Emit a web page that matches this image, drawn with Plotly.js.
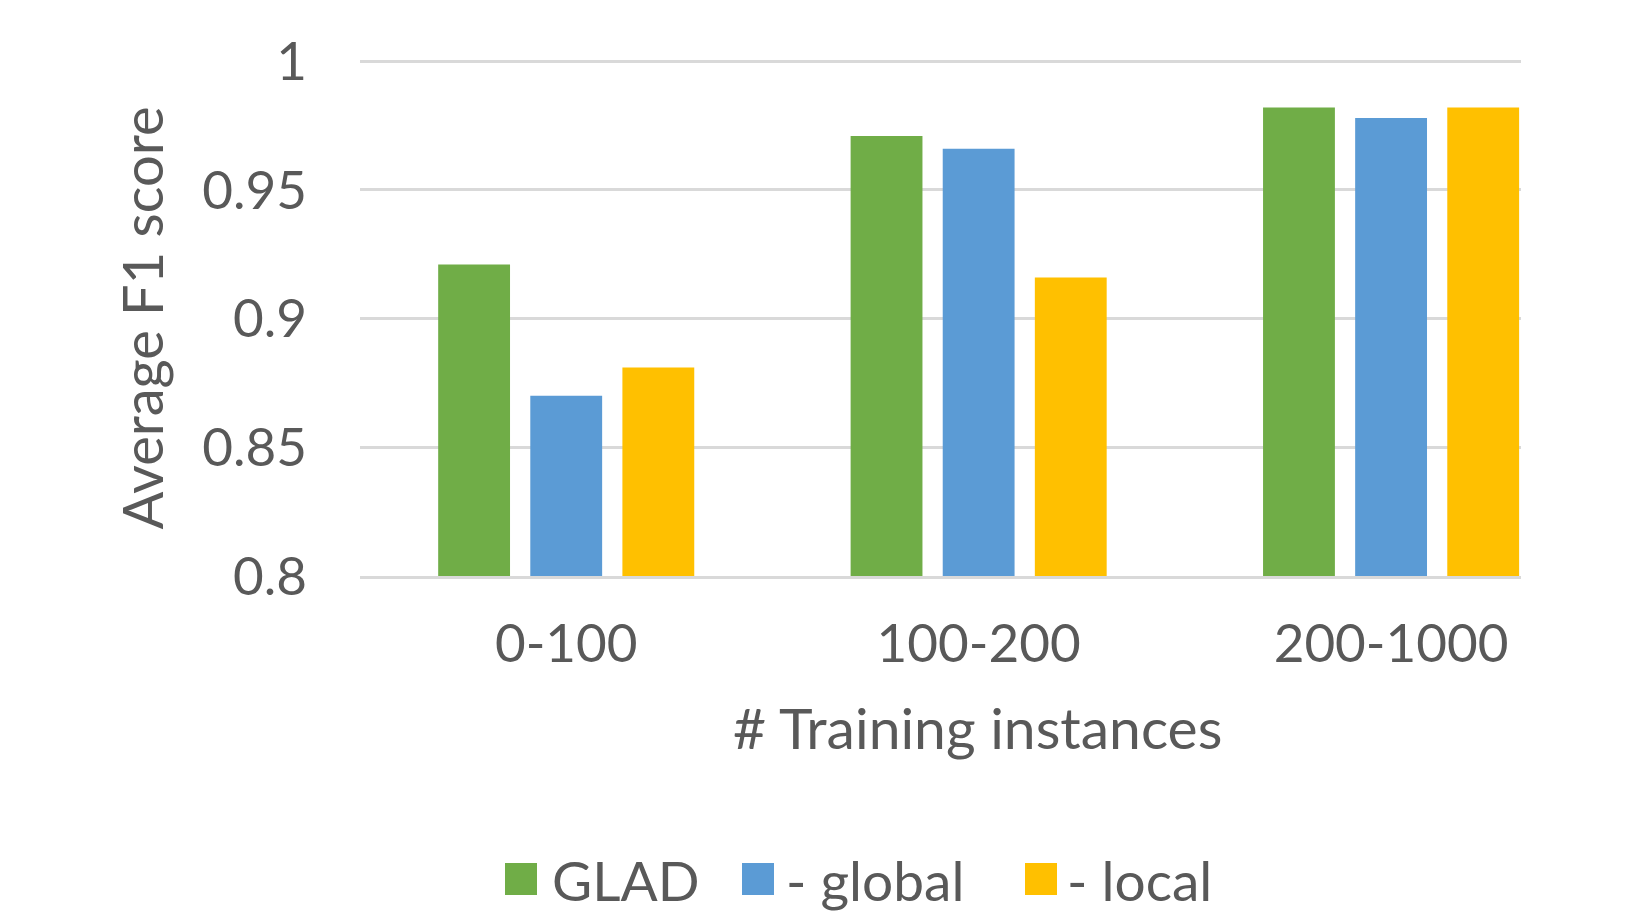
<!DOCTYPE html>
<html><head><meta charset="utf-8">
<script src="https://cdn.plot.ly/plotly-3.0.1.min.js"></script>
<style>html,body{margin:0;padding:0;background:#fff;} #chart{width:1647px;height:912px;}</style>
</head><body><div id="chart"></div>
<script>
// ---- data ----
const categories = ['0-100', '100-200', '200-1000'];
const seriesNames = ['GLAD', '- global', '- local'];
const gladValues = [0.921, 0.971, 0.982];
const globalValues = [0.870, 0.966, 0.978];
const localValues = [0.881, 0.916, 0.982];
const yTickValues = [0.8, 0.85, 0.9, 0.95, 1];
const yTickLabels = ['0.8', '0.85', '0.9', '0.95', '1'];
const xTitle = '# Training instances';
const yTitle = 'Average F1 score';

// ---- styling / layout ----
const colors = ['#70AD47', '#5B9BD5', '#FFC000'];
const textColor = '#595959';
const fontFamily = 'Lato, "Open Sans", sans-serif';
const fs = 53;
const W = 1647, H = 912;
const M = {l: 360, r: 126, t: 60, b: 336};
const PW = W - M.l - M.r, PH = H - M.t - M.b;
const px = x => (x - M.l) / PW;
const py = y => (H - M.b - y) / PH;

const seriesValues = [gladValues, globalValues, localValues];
const traces = seriesValues.map((vals, i) => ({
  type: 'bar', x: categories, y: vals, name: seriesNames[i],
  marker: {color: colors[i]}, showlegend: false, hoverinfo: 'x+y+name'
}));

// manual legend (large swatches like the original)
const legendSwatchLeft = [505, 742, 1025];
const legendTextLeft = [550, 784, 1065];
const swTop = 863, swBottom = 895, legendTextMid = 880;
const legendFs = 55;
const shapes = seriesNames.map((n, i) => ({
  type: 'rect', xref: 'paper', yref: 'paper',
  x0: px(legendSwatchLeft[i]), x1: px(legendSwatchLeft[i] + 32),
  y0: py(swBottom), y1: py(swTop),
  fillcolor: colors[i], line: {width: 0}
}));
const annotations = seriesNames.map((n, i) => ({
  xref: 'paper', yref: 'paper', x: px(legendTextLeft[i]), y: py(legendTextMid),
  xanchor: 'left', yanchor: 'middle', text: n, showarrow: false,
  font: {family: fontFamily, size: legendFs, color: textColor}
}));
annotations.push({
  xref: 'paper', yref: 'paper', x: px(977), y: py(727),
  xanchor: 'center', yanchor: 'middle', text: xTitle, showarrow: false,
  font: {family: fontFamily, size: 57, color: textColor}
});

const layout = {
  width: W, height: H, margin: M,
  paper_bgcolor: '#ffffff', plot_bgcolor: '#ffffff',
  font: {family: fontFamily, size: fs, color: textColor},
  barmode: 'group', bargap: 0.33, bargroupgap: 0.22,
  xaxis: {
    type: 'category', range: [-0.5, 2.315], showgrid: false,
    showline: true, linecolor: '#d9d9d9', linewidth: 3,
    ticks: '', ticklabelstandoff: 19,
    tickfont: {family: fontFamily, size: fs, color: textColor},
    fixedrange: true, automargin: false
  },
  yaxis: {
    range: [0.8, 1.0005], tickvals: yTickValues, ticktext: yTickLabels,
    showgrid: true, gridcolor: '#d9d9d9', gridwidth: 3,
    zeroline: false, showline: false, ticks: '', ticklabelstandoff: 52,
    tickfont: {family: fontFamily, size: fs, color: textColor},
    title: {text: yTitle, standoff: 20, font: {family: fontFamily, size: 56, color: textColor}},
    fixedrange: true, automargin: false
  },
  shapes: shapes, annotations: annotations, showlegend: false
};

Plotly.newPlot('chart', traces, layout, {displayModeBar: false, staticPlot: true});
</script></body></html>
